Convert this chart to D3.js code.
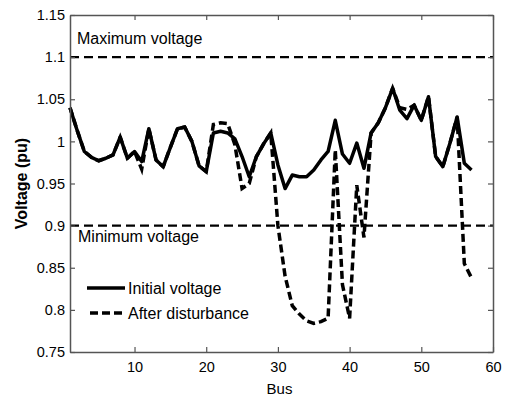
<!DOCTYPE html>
<html>
<head>
<meta charset="utf-8">
<script src="https://cdn.jsdelivr.net/npm/d3@7"></script>
<style>
  html, body { margin: 0; padding: 0; background: #fff; }
  svg { display: block; font-family: "Liberation Sans", Arial, sans-serif; }
</style>
</head>
<body>
<svg id="chart" width="505" height="396"></svg>
<script>
// ---- data ----
const buses = [1,2,3,4,5,6,7,8,9,10,11,12,13,14,15,16,17,18,19,20,21,22,23,24,25,26,27,28,29,30,
               31,32,33,34,35,36,37,38,39,40,41,42,43,44,45,46,47,48,49,50,51,52,53,54,55,56,57];
const initialVoltage = [1.040,1.013,0.988,0.981,0.977,0.980,0.984,1.005,0.980,0.988,
                        0.976,1.015,0.978,0.970,0.993,1.015,1.017,1.000,0.971,0.964,
                        1.010,1.012,1.010,1.003,0.982,0.958,0.982,0.997,1.010,0.972,
                        0.944,0.960,0.958,0.958,0.966,0.978,0.988,1.025,0.985,0.974,
                        0.998,0.968,1.010,1.022,1.040,1.063,1.037,1.027,1.043,1.025,
                        1.053,0.982,0.970,0.998,1.029,0.974,0.966];
const afterDisturbance = [1.040,1.013,0.988,0.981,0.977,0.980,0.984,1.005,0.980,0.988,
                          0.967,1.015,0.978,0.970,0.993,1.015,1.017,1.000,0.971,0.964,
                          1.020,1.022,1.021,0.996,0.944,0.950,0.982,0.997,1.010,0.900,
                          0.840,0.805,0.795,0.787,0.784,0.786,0.790,0.990,0.830,0.790,
                          0.948,0.886,1.010,1.022,1.040,1.063,1.040,1.038,1.043,1.025,
                          1.053,0.982,0.970,0.998,1.029,0.855,0.838];
const limits = [{v: 1.1, label: "Maximum voltage"}, {v: 0.9, label: "Minimum voltage"}];
const xTicks = [10, 20, 30, 40, 50, 60];
const yTicks = [0.75, 0.8, 0.85, 0.9, 0.95, 1, 1.05, 1.1, 1.15];
const legendItems = [{label: "Initial voltage", dash: null}, {label: "After disturbance", dash: "8,4"}];

// ---- layout ----
const svg = d3.select("#chart");
const L = 70, R = 493, T = 15, B = 352;
const x = d3.scaleLinear().domain([1, 60]).range([L, R]);
const y = d3.scaleLinear().domain([0.75, 1.15]).range([B, T]);
const axisColor = "#555";

// limit lines
limits.forEach(d => {
  svg.append("line")
    .attr("x1", L).attr("x2", R)
    .attr("y1", y(d.v)).attr("y2", y(d.v))
    .attr("stroke", "#000").attr("stroke-width", 2.2)
    .attr("stroke-dasharray", "9,5");
});
svg.append("text").attr("x", 77).attr("y", y(1.1) - 13)
  .attr("font-size", 16).attr("fill", "#000").text(limits[0].label);
svg.append("text").attr("x", 78).attr("y", y(0.9) + 16)
  .attr("font-size", 16).attr("fill", "#000").text(limits[1].label);

// series
const line = d3.line().x((d, i) => x(buses[i])).y(d => y(d));
svg.append("path").datum(initialVoltage)
  .attr("d", line).attr("fill", "none").attr("stroke", "#000")
  .attr("stroke-width", 3.5).attr("stroke-linejoin", "round");
svg.append("path").datum(afterDisturbance)
  .attr("d", line).attr("fill", "none").attr("stroke", "#000")
  .attr("stroke-width", 3.5).attr("stroke-dasharray", "8,4");

// axes (box with inner ticks)
const tickLen = 5;
const axB = svg.append("g").attr("transform", `translate(0,${B})`)
  .call(d3.axisBottom(x).tickValues(xTicks).tickSizeInner(-tickLen).tickSizeOuter(0).tickPadding(10).tickFormat(d3.format("d")));
const axT = svg.append("g").attr("transform", `translate(0,${T})`)
  .call(d3.axisTop(x).tickValues(xTicks).tickSizeInner(-tickLen).tickSizeOuter(0).tickFormat(""));
const axL = svg.append("g").attr("transform", `translate(${L},0)`)
  .call(d3.axisLeft(y).tickValues(yTicks).tickSizeInner(-tickLen).tickSizeOuter(0).tickPadding(5).tickFormat(d => String(+d.toFixed(2))));
const axR = svg.append("g").attr("transform", `translate(${R},0)`)
  .call(d3.axisRight(y).tickValues(yTicks).tickSizeInner(-tickLen).tickSizeOuter(0).tickFormat(""));
[axB, axT, axL, axR].forEach(g => {
  g.select(".domain").attr("stroke", axisColor).attr("stroke-width", 1.5);
  g.selectAll(".tick line").attr("stroke", axisColor).attr("stroke-width", 1.2);
  g.selectAll(".tick text").attr("fill", "#000").attr("font-size", 14.5)
    .attr("font-family", "'Liberation Sans', Arial, sans-serif");
});

// axis labels
svg.append("text").attr("x", (L + R) / 2 - 2).attr("y", 394)
  .attr("text-anchor", "middle").attr("font-size", 15).text("Bus");
svg.append("text")
  .attr("transform", `translate(27,${(T + B) / 2}) rotate(-90)`)
  .attr("text-anchor", "middle").attr("font-size", 16).attr("font-weight", "bold")
  .text("Voltage (pu)");

// legend
const lg = svg.append("g");
legendItems.forEach((d, i) => {
  const yy = 288 + i * 25;
  lg.append("line").attr("x1", d.dash ? 90 : 87).attr("x2", 125)
    .attr("y1", yy).attr("y2", yy)
    .attr("stroke", "#000").attr("stroke-width", 3.5)
    .attr("stroke-dasharray", d.dash);
  lg.append("text").attr("x", 128).attr("y", yy + 6)
    .attr("font-size", 16).text(d.label);
});
</script>
</body>
</html>
